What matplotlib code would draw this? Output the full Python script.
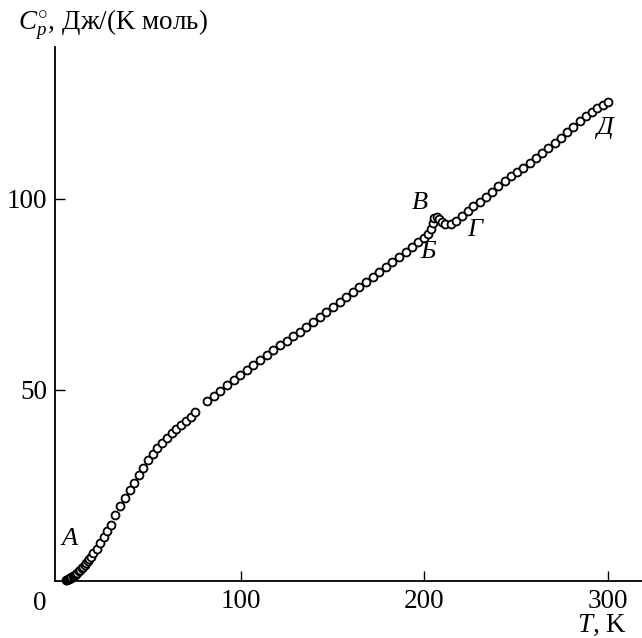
import matplotlib
matplotlib.use("Agg")
import matplotlib.pyplot as plt

# heat capacity data
T = [5.0, 5.5, 6.0, 6.5, 7.0, 7.5, 8.0, 8.6, 9.2, 9.8, 10.5, 11.2, 12.0, 12.8,
     13.6, 14.4, 15.2, 16.0, 16.8, 17.7, 18.7, 19.9,
     21.7, 23.6, 25.5, 27.4, 29.4, 31.7, 34.4, 37.1, 39.6, 42.2, 44.6, 47.1,
     49.6, 52.2, 54.4, 57.0, 59.8, 62.5, 65.0, 67.6, 70.2, 72.8, 75.4,
     81.8, 85.4, 89.0, 92.6, 96.2, 99.8, 103.4, 107.0, 110.6, 114.2, 117.8,
     121.4, 125.0, 128.6, 132.2, 135.8, 139.4, 143.0, 146.6, 150.2, 153.8,
     157.4, 161.0, 164.6, 168.2, 171.8, 175.4, 179.0, 182.6, 186.2, 189.8,
     193.4, 196.6,
     199.6, 201.8, 203.4, 204.4, 205.4, 206.8, 208.1, 209.6, 211.4, 214.2,
     217.4, 220.4, 223.4,
     226.6, 230.0, 233.4, 236.8, 240.2, 243.6, 247.0, 250.4, 253.8, 257.2,
     260.6, 264.0, 267.4, 270.8, 274.2, 277.6, 281.0, 284.4, 287.8, 291.0,
     294.0, 297.0, 300.0]
Cp = [0.1, 0.2, 0.3, 0.4, 0.5, 0.6, 0.8, 1.0, 1.2, 1.4, 1.7, 2.0, 2.4, 2.8,
      3.2, 3.6, 4.0, 4.5, 5.0, 5.6, 6.2, 7.1,
      8.3, 9.8, 11.3, 12.8, 14.6, 17.2, 19.4, 21.6, 23.6, 25.6, 27.6, 29.5,
      31.4, 33.2, 34.7, 36.0, 37.3, 38.5, 39.6, 40.7, 41.8, 42.9, 44.0,
      46.9, 48.3, 49.7, 51.1, 52.5, 53.9, 55.2, 56.5, 57.8, 59.1, 60.4,
      61.6, 62.8, 64.0, 65.2, 66.4, 67.6, 68.9, 70.2, 71.6, 72.9,
      74.2, 75.5, 76.8, 78.1, 79.5, 80.9, 82.2, 83.5, 84.8, 86.0,
      87.4, 88.6,
      89.6, 90.7, 92.0, 93.6, 94.9, 95.3, 94.7, 93.9, 93.4, 93.4,
      94.2, 95.4, 96.7,
      98.0, 99.2, 100.5, 101.9, 103.3, 104.6, 105.9, 107.0, 108.1, 109.4,
      110.7, 112.0, 113.3, 114.6, 116.0, 117.4, 118.9, 120.3, 121.6, 122.8,
      123.8, 124.6, 125.4]

point_labels = ["A", "В", "Б", "Г", "Д"]
label_T = [7.1, 197.6, 201.9, 227.5, 297.7]
label_C = [10.7, 99.0, 86.1, 91.9, 118.6]

plt.rcParams["font.family"] = ["Liberation Serif", "DejaVu Serif"]
plt.rcParams["mathtext.fontset"] = "custom"
plt.rcParams["mathtext.rm"] = "Liberation Serif"
plt.rcParams["mathtext.it"] = "Liberation Serif:italic"

fig = plt.figure(figsize=(6.42, 6.38), dpi=100)
ax = fig.add_axes([0.0864, 0.0893, 0.9136, 0.837])

ax.plot(T, Cp, "o", ms=5.7, mfc="white", mec="black", mew=1.3, clip_on=False)

for lab, x, y in zip(point_labels, label_T, label_C):
    ax.text(x, y, lab, fontsize=19, style="italic", ha="center", va="center")

ax.set_xlim(-0.7, 318.3)
ax.set_ylim(-0.2, 139.8)
ax.set_xticks([100, 200, 300])
ax.set_yticks([50, 100])
ax.tick_params(direction="in", length=7, width=1, labelsize=19.5, pad=6)
for s in ["top", "right"]:
    ax.spines[s].set_visible(False)
for s in ["left", "bottom"]:
    ax.spines[s].set_linewidth(1.3)

ax.annotate("0", xy=(0, 0), xytext=(-12, -17), textcoords="offset points",
            fontsize=19.5, ha="center", va="center", annotation_clip=False)

fig.text(0.028, 0.961, r"$C_p^{\circ}$, Дж/(K моль)", fontsize=19.5,
         ha="left", va="center")
fig.text(0.977, 0.02, r"$T$, K", fontsize=19.5, ha="right", va="center")

plt.savefig("out.png", dpi=100)
